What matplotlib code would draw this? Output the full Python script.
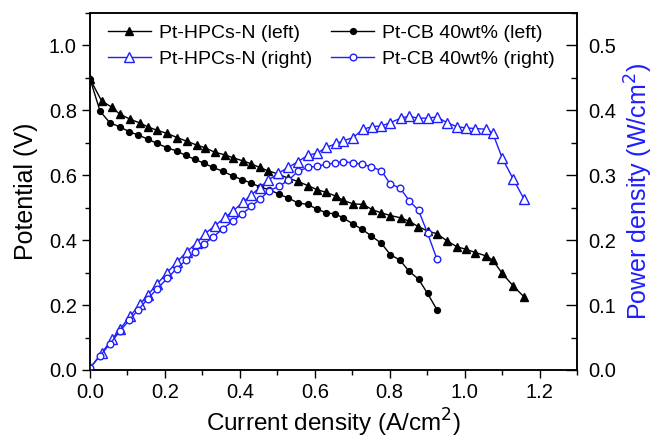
import numpy as np
import matplotlib
matplotlib.use("Agg")
import matplotlib.pyplot as plt
from matplotlib.ticker import MultipleLocator

plt.rcParams['font.family'] = ['Liberation Sans', 'DejaVu Sans']

# current density (A/cm2) for each catalyst
i_hpcs = [0.0, 0.031, 0.058, 0.08, 0.107, 0.133, 0.155, 0.178, 0.206, 0.233,
          0.258, 0.285, 0.307, 0.333, 0.36, 0.382, 0.409, 0.431, 0.453, 0.475,
          0.502, 0.529, 0.555, 0.582, 0.606, 0.631, 0.658, 0.675, 0.702, 0.729,
          0.754, 0.778, 0.802, 0.829, 0.851, 0.876, 0.902, 0.926, 0.953, 0.979,
          1.003, 1.029, 1.056, 1.075, 1.1, 1.129, 1.158]
i_cb = [0.0, 0.027, 0.053, 0.08, 0.105, 0.129, 0.155, 0.179, 0.206, 0.231,
        0.256, 0.28, 0.304, 0.329, 0.355, 0.381, 0.407, 0.431, 0.455, 0.478,
        0.504, 0.529, 0.555, 0.581, 0.606, 0.631, 0.655, 0.675, 0.702, 0.727,
        0.751, 0.778, 0.802, 0.827, 0.852, 0.877, 0.901, 0.926]

# potential (V)
v_hpcs = [0.897, 0.829, 0.810, 0.788, 0.773, 0.761, 0.749, 0.739, 0.729, 0.716,
          0.705, 0.693, 0.685, 0.671, 0.663, 0.654, 0.644, 0.635, 0.624, 0.614,
          0.604, 0.591, 0.581, 0.568, 0.556, 0.547, 0.535, 0.523, 0.512, 0.510,
          0.494, 0.484, 0.476, 0.469, 0.459, 0.442, 0.428, 0.420, 0.398, 0.380,
          0.372, 0.362, 0.352, 0.339, 0.298, 0.260, 0.226]
v_cb = [0.897, 0.797, 0.762, 0.749, 0.734, 0.724, 0.711, 0.698, 0.685, 0.675,
        0.661, 0.649, 0.637, 0.624, 0.612, 0.598, 0.586, 0.576, 0.563, 0.556,
        0.542, 0.530, 0.515, 0.510, 0.496, 0.484, 0.481, 0.469, 0.450, 0.433,
        0.413, 0.390, 0.355, 0.339, 0.304, 0.280, 0.236, 0.186]

# power density (W/cm2)
p_hpcs = [0.003, 0.026, 0.047, 0.063, 0.083, 0.101, 0.116, 0.132, 0.150, 0.167,
          0.182, 0.196, 0.210, 0.222, 0.235, 0.245, 0.259, 0.270, 0.281, 0.292,
          0.303, 0.312, 0.321, 0.331, 0.334, 0.343, 0.349, 0.353, 0.358, 0.371,
          0.375, 0.376, 0.381, 0.388, 0.391, 0.388, 0.388, 0.390, 0.381, 0.375,
          0.373, 0.372, 0.371, 0.365, 0.327, 0.295, 0.264]
p_cb = [0.003, 0.022, 0.040, 0.060, 0.077, 0.093, 0.110, 0.125, 0.141, 0.156,
        0.169, 0.182, 0.194, 0.205, 0.218, 0.229, 0.241, 0.252, 0.264, 0.276,
        0.283, 0.292, 0.306, 0.312, 0.314, 0.317, 0.319, 0.321, 0.319, 0.317,
        0.313, 0.307, 0.286, 0.281, 0.261, 0.246, 0.211, 0.171]

blue = '#1e1eff'

fig = plt.figure(figsize=(6.55, 4.41), dpi=100)
ax = fig.add_axes([0.1374, 0.161, 0.7435, 0.8095])
ax2 = ax.twinx()

l1, = ax.plot(i_hpcs, v_hpcs, '-', color='black', lw=1, marker='^', ms=6,
              label='Pt-HPCs-N (left)')
l2, = ax.plot(i_cb, v_cb, '-', color='black', lw=1, marker='o', ms=4.2,
              label='Pt-CB 40wt% (left)')
l3, = ax2.plot(i_hpcs, p_hpcs, '-', color=blue, lw=1, marker='^', ms=6.5,
               mfc='white', mec=blue, mew=1, label='Pt-HPCs-N (right)')
l4, = ax2.plot(i_cb, p_cb, '-', color=blue, lw=1, marker='o', ms=4.8,
               mfc='white', mec=blue, mew=1, label='Pt-CB 40wt% (right)')

ax.set_xlim(0, 1.3)
ax.set_ylim(0, 1.1)
ax2.set_ylim(0, 0.55)

ax.xaxis.set_major_locator(MultipleLocator(0.2))
ax.xaxis.set_minor_locator(MultipleLocator(0.1))
ax.yaxis.set_major_locator(MultipleLocator(0.2))
ax.yaxis.set_minor_locator(MultipleLocator(0.1))
ax2.yaxis.set_major_locator(MultipleLocator(0.1))
ax2.yaxis.set_minor_locator(MultipleLocator(0.05))

ax.tick_params(axis='both', which='major', direction='out', length=6, width=1,
               labelsize=14.5, top=False)
ax.tick_params(axis='both', which='minor', direction='out', length=3.5, width=1,
               top=False)
ax2.tick_params(axis='y', which='major', direction='in', length=8, width=1,
                labelsize=14.5, pad=8)
ax2.tick_params(axis='y', which='minor', direction='in', length=4, width=1)

ax.set_xlabel('Current density (A/cm$^2$)', fontsize=17.5, labelpad=3)
ax.set_ylabel('Potential (V)', fontsize=18, labelpad=8)
ax2.set_ylabel('Power density (W/cm$^2$)', fontsize=18, color=blue, labelpad=5)

for a in (ax, ax2):
    for s in a.spines.values():
        s.set_linewidth(1.1)

ax.legend(handles=[l1, l3, l2, l4], ncol=2, frameon=False, fontsize=14,
          loc='upper left', bbox_to_anchor=(108 / 655, 1 - 24 / 441),
          bbox_transform=fig.transFigure, borderpad=0, borderaxespad=0,
          columnspacing=1.0, handlelength=2.2, handletextpad=0.4,
          labelspacing=0.45)

fig.savefig('out.png', dpi=100)
